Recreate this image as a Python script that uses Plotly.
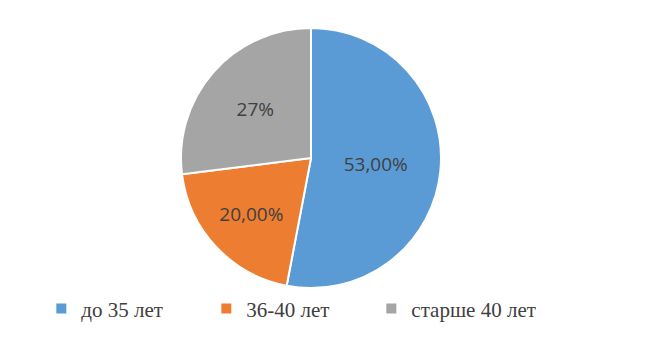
import plotly.graph_objects as go

categories = ["до 35 лет", "36-40 лет", "старше 40 лет"]
values = [53, 20, 27]
value_labels = ["53,00%", "20,00%", "27%"]
colors = ["#5B9BD5", "#ED7D31", "#A5A5A5"]

fig = go.Figure(go.Pie(
    labels=categories,
    values=values,
    text=value_labels,
    textinfo="text",
    textposition="inside",
    insidetextorientation="horizontal",
    sort=False,
    direction="clockwise",
    rotation=0,
    marker=dict(colors=colors, line=dict(color="white", width=2)),
    textfont=dict(family="Open Sans", size=19, color="#404040"),
    hoverinfo="label+percent",
))

fig.update_layout(
    width=648, height=337,
    margin=dict(l=0, r=42, t=20, b=57),
    paper_bgcolor="white",
    plot_bgcolor="white",
    showlegend=True,
    legend=dict(
        orientation="h",
        x=0.055, xanchor="left",
        y=-0.08, yanchor="middle",
        font=dict(family="Liberation Serif", size=21, color="#404040"),
        entrywidth=120, entrywidthmode="pixels",
        itemwidth=30,
        traceorder="normal",
    ),
)

fig.write_html("out.html")
